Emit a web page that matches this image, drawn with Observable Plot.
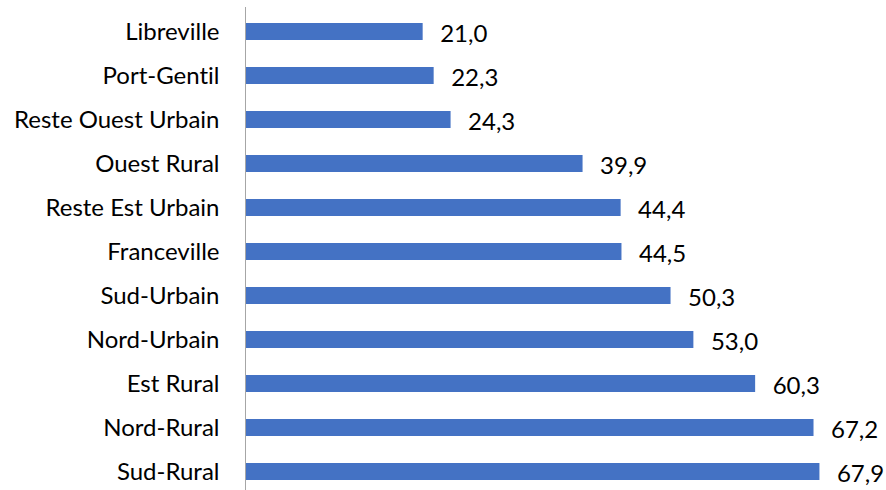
<!DOCTYPE html>
<html>
<head>
<meta charset="utf-8">
<script src="https://cdn.jsdelivr.net/npm/d3@7"></script>
<script src="https://cdn.jsdelivr.net/npm/@observablehq/plot@0.6"></script>
<style>
  html, body { margin: 0; padding: 0; background: #fff; overflow: hidden; }
  #chart svg { display: block; }
  #chart svg text { font-variant-ligatures: none; font-feature-settings: "liga" 0, "clig" 0; }
</style>
</head>
<body>
<div id="chart"></div>
<script>
const categories = ["Libreville", "Port-Gentil", "Reste Ouest Urbain", "Ouest Rural", "Reste Est Urbain", "Franceville", "Sud-Urbain", "Nord-Urbain", "Est Rural", "Nord-Rural", "Sud-Rural"];
const values = [21.0, 22.3, 24.3, 39.9, 44.4, 44.5, 50.3, 53.0, 60.3, 67.2, 67.9];

const data = categories.map((c, i) => ({category: c, value: values[i]}));
const fmt = v => v.toFixed(1).replace(".", ",");

const chart = Plot.plot({
  width: 886,
  height: 497,
  marginLeft: 245,
  marginRight: 6.5,
  marginTop: 7,
  marginBottom: 1,
  style: {fontFamily: "Lato, 'Open Sans', sans-serif", fontSize: "24px", color: "#000", background: "#fff"},
  x: {domain: [0, 75], axis: null},
  y: {domain: categories, paddingInner: 0.617, paddingOuter: 0.3085, label: null, tickSize: 0, tickPadding: 26, fontSize: 24},
  marks: [
    Plot.barX(data, {x: "value", y: "category", fill: "#4472C4"}),
    Plot.ruleX([0], {stroke: "#a6a6a6", strokeWidth: 1}),
    Plot.text(data, {x: "value", y: "category", text: d => fmt(d.value), textAnchor: "start", dx: 17, dy: 2, fill: "#000", fontSize: 24})
  ]
});
document.getElementById("chart").appendChild(chart);
</script>
</body>
</html>
